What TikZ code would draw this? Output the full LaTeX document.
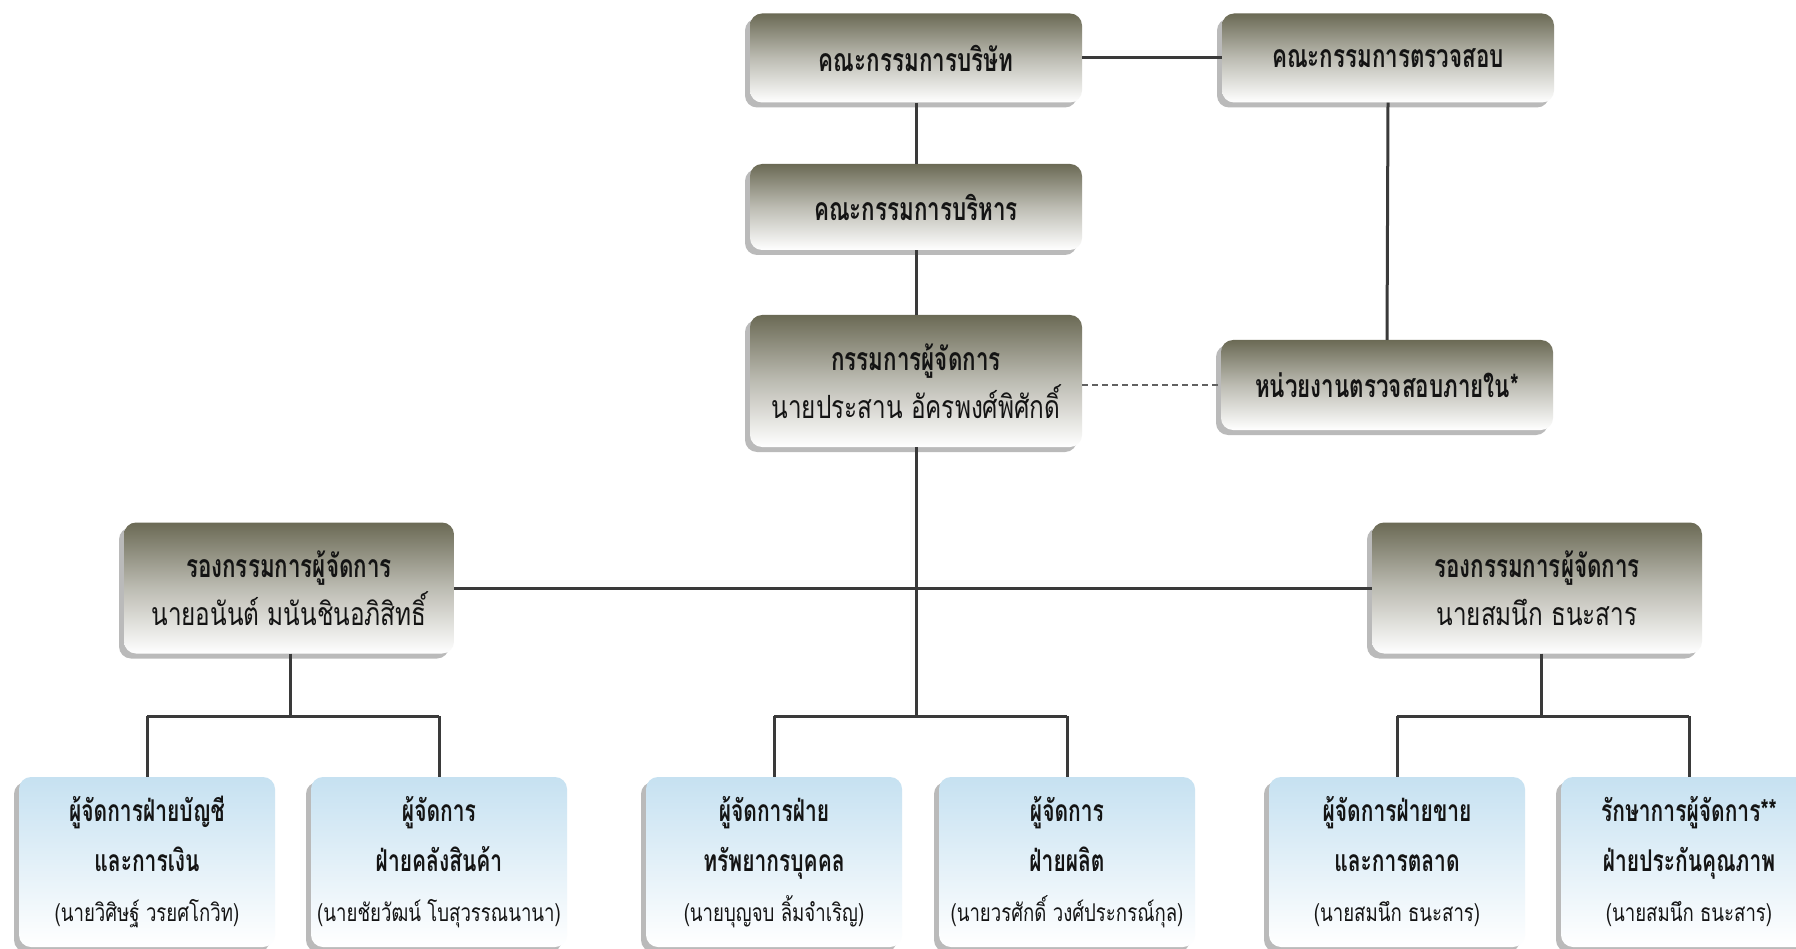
\documentclass[tikz,border=0pt]{standalone}
\usepackage{fontspec}
\newfontfamily\thaib[Script=Thai,FakeStretch=0.7]{Loma}
\newfontfamily\thair[Script=Thai,FakeStretch=0.76]{Loma}
\usetikzlibrary{shadows}
\definecolor{olive}{HTML}{6B6A55}
\definecolor{sky}{HTML}{C6E1F1}
\definecolor{ln}{HTML}{3A3A3A}
\definecolor{tx}{HTML}{141414}
\tikzset{
  topbox/.style={rounded corners=12pt, top color=olive, bottom color=white, middle color=olive!45,
    draw=none, minimum width=332pt, align=center, text=tx, inner sep=0pt,
    drop shadow={shadow xshift=-5pt, shadow yshift=-5pt, opacity=0.45, fill=black!60}},
  botbox/.style={rounded corners=12pt, top color=sky, bottom color=white,
    draw=none, minimum width=256pt, minimum height=170pt, align=center, text=tx, inner sep=0pt,
    drop shadow={shadow xshift=-5pt, shadow yshift=-5pt, opacity=0.45, fill=black!60}},
  conn/.style={draw=ln, line width=3pt},
  dconn/.style={draw=ln!80, line width=2pt, dash pattern=on 6pt off 4pt},
  big/.style={font=\fontsize{32}{48}\selectfont},
  small/.style={font=\fontsize{30}{50}\selectfont},
}
\newcommand{\ttl}[1]{{\thaib\bfseries #1}}
\newcommand{\per}[1]{{\thair #1}}
\newcommand{\nm}[1]{{\thair\fontsize{24.5}{50}\selectfont #1}}
\begin{document}
\begin{tikzpicture}[x=1pt,y=-1pt]
\clip (0,0) rectangle (1796,949);
\fill[white] (0,0) rectangle (1796,949);
% top part
\node[topbox, big, minimum height=89pt] (board) at (916,58) {\ttl{คณะกรรมการบริษัท}};
\node[topbox, big, minimum height=89pt] (ac) at (1388,58) {\ttl{คณะกรรมการตรวจสอบ}};
\node[topbox, big, minimum height=86pt] (ex) at (916,207) {\ttl{คณะกรรมการบริหาร}};
\node[topbox, big, minimum height=132pt] (md) at (916,381) {\ttl{กรรมการผู้จัดการ}\\ \per{นายประสาน อัครพงศ์พิศักดิ์}};
\node[topbox, big, minimum height=90pt] (ia) at (1387,385) {\ttl{หน่วยงานตรวจสอบภายใน*}};
\node[topbox, big, minimum height=131pt, minimum width=330pt] (dl) at (289,588) {\ttl{รองกรรมการผู้จัดการ}\\ \per{นายอนันต์ มนันชินอภิสิทธิ์}};
\node[topbox, big, minimum height=131pt, minimum width=330pt] (dr) at (1537,588) {\ttl{รองกรรมการผู้จัดการ}\\ \per{นายสมนึก ธนะสาร}};
% bottom boxes
\node[botbox, small] (b1) at (147,862) {\ttl{ผู้จัดการฝ่ายบัญชี}\\ \ttl{และการเงิน}\\ \nm{(นายวิศิษฐ์ วรยศโกวิท)}};
\node[botbox, small] (b2) at (439,862) {\ttl{ผู้จัดการ}\\ \ttl{ฝ่ายคลังสินค้า}\\ \nm{(นายชัยวัฒน์ โบสุวรรณนานา)}};
\node[botbox, small] (b3) at (774,862) {\ttl{ผู้จัดการฝ่าย}\\ \ttl{ทรัพยากรบุคคล}\\ \nm{(นายบุญจบ ลิ้มจำเริญ)}};
\node[botbox, small] (b4) at (1067,862) {\ttl{ผู้จัดการ}\\ \ttl{ฝ่ายผลิต}\\ \nm{(นายวรศักดิ์ วงศ์ประกรณ์กุล)}};
\node[botbox, small] (b5) at (1397,862) {\ttl{ผู้จัดการฝ่ายขาย}\\ \ttl{และการตลาด}\\ \nm{(นายสมนึก ธนะสาร)}};
\node[botbox, small] (b6) at (1689,862) {\ttl{รักษาการผู้จัดการ**}\\ \ttl{ฝ่ายประกันคุณภาพ}\\ \nm{(นายสมนึก ธนะสาร)}};
% junctions
\coordinate (jc) at (916,716);
\coordinate (jl) at (290,716);
\coordinate (jr) at (1541,716);
% connectors
\draw[conn] (board) -- (ac);
\draw[conn] (board) -- (ex);
\draw[conn] (ex) -- (md);
\draw[conn] (ac.south) -- (ia.north);
\draw[dconn] (ia.west -| md.east) -- (ia.west);
\draw[conn] (md.south) -- (jc);
\draw[conn] (dl) -- (dr);
\draw[conn] (dl.south -| jl) -- (jl);
\draw[conn] (dr.south -| jr) -- (jr);
\draw[conn] (b1.north |- jl) -- (b2.north |- jl);
\draw[conn] (b1.north |- jl) -- (b1.north);
\draw[conn] (b2.north |- jl) -- (b2.north);
\draw[conn] (b3.north |- jc) -- (b4.north |- jc);
\draw[conn] (b3.north |- jc) -- (b3.north);
\draw[conn] (b4.north |- jc) -- (b4.north);
\draw[conn] (b5.north |- jr) -- (b6.north |- jr);
\draw[conn] (b5.north |- jr) -- (b5.north);
\draw[conn] (b6.north |- jr) -- (b6.north);
\end{tikzpicture}
\end{document}
